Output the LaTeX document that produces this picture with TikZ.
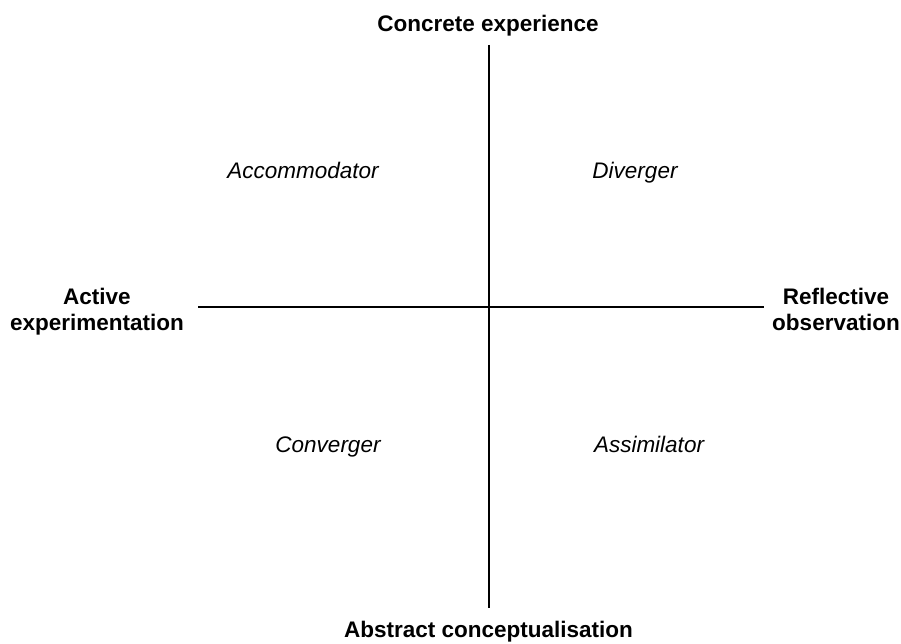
\documentclass[tikz,border=0pt]{standalone}
\usepackage{fontspec}
\setmainfont{Liberation Sans}
\begin{document}
\begin{tikzpicture}[x=1pt,y=-1pt,
  axis/.style={line width=1.5pt, black},
  axislabel/.style={font=\fontsize{22.5}{26}\selectfont\bfseries, align=center, inner sep=0pt, anchor=base},
  quadlabel/.style={font=\fontsize{22.5}{26}\selectfont\itshape, inner sep=0pt, anchor=base}]
\useasboundingbox (0,0) rectangle (901,644);
\coordinate (top) at (489,45);
\coordinate (bot) at (489,608);
\coordinate (left) at (198,307);
\coordinate (right) at (764,307);
\draw[axis] (top) -- (bot);
\draw[axis] (left) -- (right);
\node[axislabel] (ce) at (488,32) {Concrete experience};
\node[axislabel] (ac) at (488.5,637) {Abstract conceptualisation};
\node[axislabel] (ae) at (97,330) {Active\\experimentation};
\node[axislabel] (ro) at (836,330) {Reflective\\observation};
\node[quadlabel] (acc) at (303,179) {Accommodator};
\node[quadlabel] (div) at (635,179) {Diverger};
\node[quadlabel] (con) at (328,452) {Converger};
\node[quadlabel] (ass) at (649,452) {Assimilator};
\end{tikzpicture}
\end{document}
